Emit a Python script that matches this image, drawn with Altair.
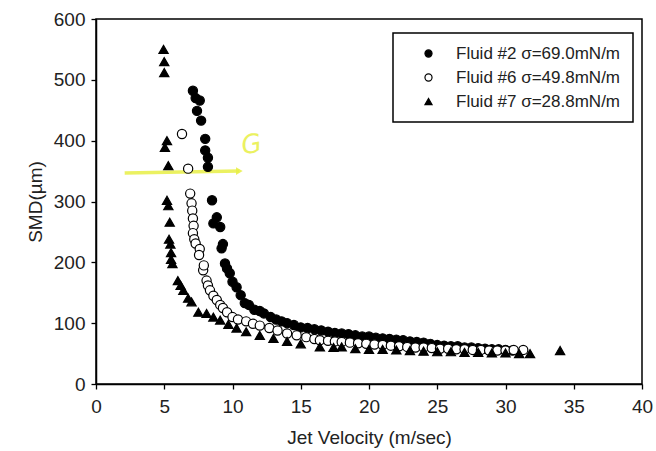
import altair as alt
import pandas as pd

# Fluid #2 (filled circles)
v2 = [7.1, 7.3, 7.4, 7.6, 7.7, 8.0, 8.0, 8.2, 8.2, 8.5, 8.6, 8.85, 9.1, 9.2, 9.3, 9.45, 9.6, 9.8,
      10.0, 10.3, 10.6, 10.9, 11.2, 11.6, 12.0, 12.3, 12.8, 13.2, 13.6, 14.0, 14.5, 15.0, 15.5,
      16.0, 16.5, 17.0, 17.5, 18.0, 18.5, 19.0, 19.5, 20.0, 20.5, 21.0, 21.5, 22.0, 22.5, 23.0,
      23.5, 24.0, 24.5, 25.0, 25.5, 26.0, 26.5, 27.0, 27.5, 28.0, 28.5, 29.0, 29.5, 30.0, 30.5]
s2 = [482, 470, 449, 466, 433, 403, 384, 372, 357, 302, 264, 274, 258, 223, 230, 198, 190, 182,
      168, 159, 146, 133, 130, 122, 120, 116, 110, 106, 103, 100, 97, 93, 92,
      90, 88, 86, 84, 83, 82, 80, 78, 78, 76, 75, 74, 73, 72, 70,
      69, 68, 66, 64, 63, 62, 62, 60, 60, 59, 58, 57, 57, 56, 55]

# Fluid #6 (open circles)
v6 = [6.3, 6.75, 6.9, 7.0, 7.05, 7.1, 7.15, 7.1, 7.2, 7.3, 7.6, 7.55, 7.85, 7.9, 8.1, 8.2, 8.35,
      8.6, 8.85, 9.1, 9.3, 9.6, 10.0, 10.4, 11.0, 11.5, 12.0, 12.7, 13.3, 14.0, 14.7, 15.4, 16.0,
      16.4, 17.0, 17.5, 18.0, 18.6, 19.2, 19.8, 20.4, 21.0, 21.6, 22.2, 22.8, 23.4, 24.0, 24.6,
      25.2, 25.8, 26.4, 27.0, 27.6, 28.2, 28.8, 29.4, 30.0, 30.6, 31.3]
s6 = [411, 354, 313, 297, 285, 272, 260, 248, 238, 231, 222, 212, 187, 195, 170, 162, 154,
      145, 138, 130, 125, 118, 110, 106, 103, 99, 96, 92, 88, 83, 80, 77, 74,
      72, 71, 70, 69, 68, 67, 66, 65, 64, 63, 62, 61, 60, 60, 59,
      58, 58, 57, 57, 56, 56, 55, 55, 55, 56, 56]

# Fluid #7 (triangles)
v7 = [4.95, 5.0, 5.0, 5.2, 5.05, 5.3, 5.2, 5.3, 5.4, 5.35, 5.45, 5.5, 5.5, 5.6, 6.0, 6.2, 6.4,
      6.75, 7.0, 7.5, 8.1, 8.6, 9.1, 9.7, 10.3, 11.0, 12.0, 13.0, 14.0, 15.0, 16.4, 17.4, 18.0,
      19.0, 20.0, 21.0, 22.0, 23.0, 24.0, 25.0, 26.0, 27.0, 28.0, 29.0, 30.0, 31.0, 31.8, 34.0]
s7 = [550, 530, 512, 400, 389, 359, 302, 293, 266, 238, 230, 216, 205, 198, 170, 162, 154,
      141, 135, 118, 116, 110, 105, 98, 92, 86, 80, 75, 70, 66, 61, 60, 61,
      58, 57, 57, 56, 55, 54, 53, 53, 52, 52, 51, 51, 50, 50, 55]

labels = ["Fluid #2 σ=69.0mN/m", "Fluid #6 σ=49.8mN/m", "Fluid #7 σ=28.8mN/m"]

# hand-drawn yellow annotation
ann_x = [2.1, 10.5]
ann_y = [347, 350]
ann_mark_x = [11.4]
ann_mark_y = [393]
ann_text = ["G"]

rows = []
for v, s, lab in [(v2, s2, labels[0]), (v6, s6, labels[1]), (v7, s7, labels[2])]:
    for a, b in zip(v, s):
        rows.append({"v": a, "smd": b, "fluid": lab})
df = pd.DataFrame(rows)

xs = alt.Scale(domain=[0, 40], nice=False, zero=False)
ys = alt.Scale(domain=[0, 600], nice=False, zero=False)

leg = alt.Legend(
    orient="none", legendX=297, legendY=14, strokeColor="black",
    fillColor="white", padding=12, labelFont="Liberation Sans", labelFontSize=17,
    labelColor="#222", symbolSize=50, symbolStrokeWidth=1.2,
    rowPadding=6, symbolOffset=15, labelOffset=19, labelLimit=300, title=None,
)

points = alt.Chart(df).mark_point(strokeWidth=1.2, opacity=1, size=85).encode(
    x=alt.X("v:Q", scale=xs, title="Jet Velocity (m/sec)",
            axis=alt.Axis(values=list(range(0, 45, 5)), grid=False, labelFlush=False)),
    y=alt.Y("smd:Q", scale=ys, title="SMD(µm)",
            axis=alt.Axis(values=list(range(0, 700, 100)), grid=False, labelFlush=False)),
    shape=alt.Shape("fluid:N", scale=alt.Scale(domain=labels,
                    range=["circle", "circle", "triangle-up"]), legend=leg, title=None),
    fill=alt.Fill("fluid:N", scale=alt.Scale(domain=labels,
                  range=["black", "white", "black"]), legend=leg, title=None),
    stroke=alt.Stroke("fluid:N", scale=alt.Scale(domain=labels,
                      range=["black", "black", "black"]), legend=leg, title=None),
)

ann_df = pd.DataFrame({"x": [ann_x[0]], "x2": [ann_x[1]], "y": [ann_y[0]], "y2": [ann_y[1]]})
ann_line = alt.Chart(ann_df).mark_rule(color="#e8ef45", strokeWidth=3.5, opacity=0.85).encode(
    x=alt.X("x:Q", scale=xs), x2="x2:Q", y=alt.Y("y:Q", scale=ys), y2="y2:Q")
ann_head = alt.Chart(pd.DataFrame({"x": [ann_x[1]], "y": [ann_y[1]]})).mark_point(
    shape="triangle-right", filled=True, color="#e8ef45", size=60, opacity=0.85).encode(
    x=alt.X("x:Q", scale=xs), y=alt.Y("y:Q", scale=ys))
ann_g = alt.Chart(pd.DataFrame({"x": ann_mark_x, "y": ann_mark_y, "t": ann_text})).mark_text(
    color="#e8ef45", fontSize=26, fontStyle="italic", font="DejaVu Sans", angle=350, opacity=0.85
).encode(x=alt.X("x:Q", scale=xs), y=alt.Y("y:Q", scale=ys), text="t:N")

chart = alt.layer(ann_line, ann_head, ann_g, points).properties(
    width=546, height=365,
    autosize=alt.AutoSizeParams(type="none"),
    padding={"left": 96, "top": 19, "right": 14, "bottom": 67},
).configure_view(stroke="black", strokeWidth=1.5).configure_axis(
    domainColor="black", domainWidth=1.5, tickColor="black", tickSize=5, tickWidth=1.3,
    labelColor="#222", labelFont="Liberation Sans", labelFontSize=19,
    titleColor="#222", titleFont="Liberation Sans", titleFontSize=19, titleFontWeight="normal",
).configure_axisX(labelPadding=8, titlePadding=12).configure_axisY(
    labelPadding=6, titlePadding=8
).configure_legend(strokeWidth=1.5)

chart.save("out.html", embed_options={"renderer": "svg", "actions": False})
